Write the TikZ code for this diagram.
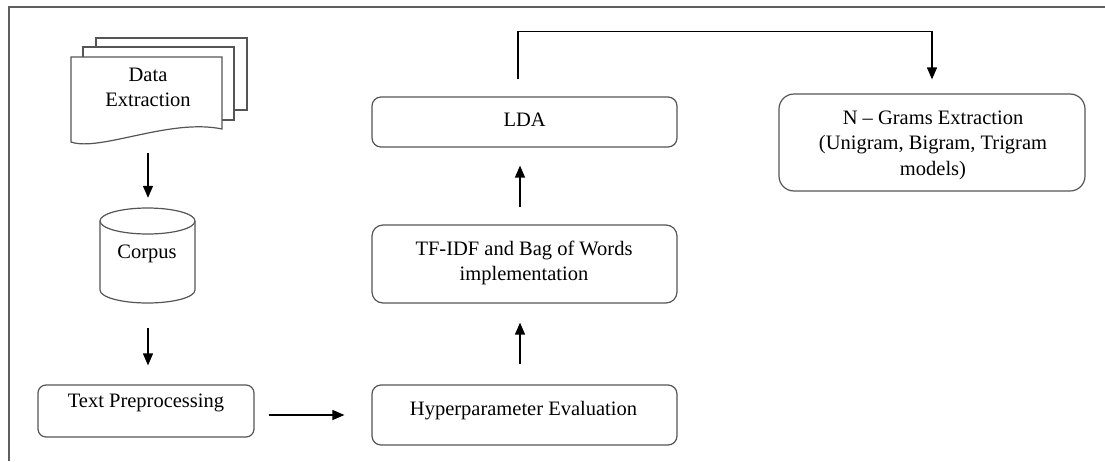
\documentclass[tikz,border=0pt]{standalone}
\usepackage{fontspec}
\setmainfont{Liberation Serif}
\usetikzlibrary{arrows.meta}

\definecolor{edgegray}{HTML}{555555}
\definecolor{framegray}{HTML}{5F5F5F}

\newcommand{\labelfont}{\fontsize{20.5pt}{25.5pt}\selectfont}

\tikzset{
  box/.style={draw=edgegray, line width=1.2pt, rounded corners=9pt, fill=white,
              inner sep=0pt},
  shapeline/.style={draw=edgegray, line width=1.2pt, fill=white},
  hold/.style={inner sep=0pt},
  txt/.style={font=\labelfont, align=center, inner sep=0pt},
  arr/.style={draw=black, line width=1.3pt, -{Triangle[length=12pt,width=10pt]}},
  framestroke/.style={draw=framegray, line width=2pt},
}

\begin{document}
\begin{tikzpicture}[x=1pt, y=-1pt]
  \useasboundingbox (0,0) rectangle (1105,461);

  % outer frame (top and left edges)
  \draw[framestroke] (8.5,461) -- (8.5,6.5) -- (1105,6.5);

  % stacked documents
  \draw[shapeline] (96,38) rectangle (247,110);
  \draw[shapeline] (83,47) rectangle (234,120);
  \draw[shapeline] (71,57) -- (222,57) -- (222,129)
        .. controls (170,118) and (100,152) .. (71,142) -- cycle;
  \node[hold, minimum width=151pt, minimum height=90pt] (data) at (146.5,100) {};
  \node[txt] (datatext) at (148,89) {\strut Data\\\strut Extraction};

  % corpus cylinder
  \draw[shapeline] (100,221) -- (100,290)
        arc[start angle=180, end angle=0, x radius=47.5, y radius=13] -- (195,221);
  \draw[shapeline] (147.5,221) ellipse[x radius=47.5, y radius=13];
  \node[hold, minimum width=95pt, minimum height=95pt] (corpus) at (147.5,255.5) {};
  \node[txt] (corpustext) at (147,253) {\strut Corpus};

  % process boxes
  \node[box, minimum width=216pt, minimum height=52pt, rounded corners=8pt] (tp) at (146,411) {};
  \node[txt] (tptext) at (146,402) {\strut Text Preprocessing};

  \node[box, minimum width=305pt, minimum height=60pt] (hyper) at (524.5,415) {};
  \node[txt] (hypertext) at (523.5,410) {\strut Hyperparameter Evaluation};

  \node[box, minimum width=305pt, minimum height=78pt, rounded corners=11pt] (tfidf) at (524.5,264) {};
  \node[txt] (tfidftext) at (524,263) {\strut TF-IDF and Bag of Words\\\strut implementation};

  \node[box, minimum width=305pt, minimum height=50pt] (lda) at (524.5,122) {};
  \node[txt] (ldatext) at (524.7,121) {\strut LDA};

  \node[box, minimum width=306pt, minimum height=97pt, rounded corners=15pt] (ngram) at (932,142.5) {};
  \node[txt] (ngramtext) at (933,144.4) {\strut N -- Grams Extraction\\\strut (Unigram, Bigram, Trigram\\\strut models)};

  % connectors
  \draw[arr, shorten <=8pt, shorten >=10pt] ([xshift=1.5pt]data.south) -- ([xshift=0.5pt]corpus.north);
  \draw[arr, shorten <=25pt, shorten >=19pt] ([xshift=0.5pt]corpus.south) -- ([xshift=2pt]tp.north);
  \draw[arr, shorten <=14pt, shorten >=27pt] (tp.east |- hyper) -- (hyper.west);
  \draw[arr, shorten <=20pt, shorten >=19pt] ([xshift=-4.5pt]hyper.north) -- ([xshift=-4.5pt]tfidf.south);
  \draw[arr, shorten <=17pt, shorten >=18pt] ([xshift=-4.5pt]tfidf.north) -- ([xshift=-4.5pt]lda.north |- lda.south);
  \draw[arr, shorten <=17pt, shorten >=14pt] ([xshift=-6.5pt]lda.north) -- ++(0,-65) -| (ngram.north);
\end{tikzpicture}
\end{document}
